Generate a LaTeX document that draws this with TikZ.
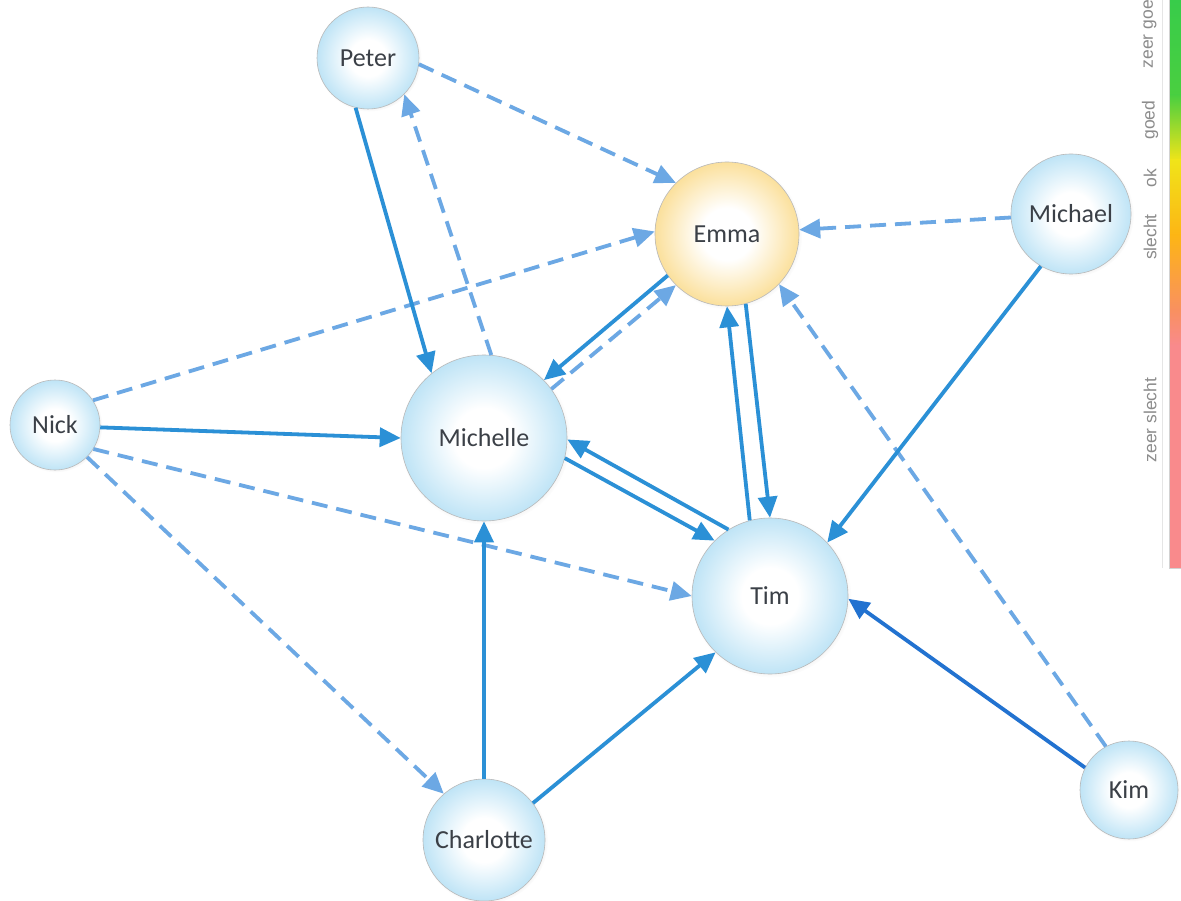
\documentclass[tikz,border=0pt]{standalone}
\usepackage{fontspec}
\setmainfont{Carlito}
\newfontfamily\labfont{Liberation Sans}
\usetikzlibrary{arrows.meta,shadows}
\definecolor{nodeblue}{HTML}{BFE4F6}
\definecolor{nodeyellow}{HTML}{FBE09C}
\definecolor{solidblue}{HTML}{2B90D6}
\definecolor{darkblue}{HTML}{2272D0}
\definecolor{dashblue}{HTML}{6CA8E4}
\definecolor{txt}{HTML}{3B4047}
\definecolor{labgray}{HTML}{8C8C8C}
\definecolor{cgreen}{HTML}{38CC4A}
\definecolor{cgreenb}{HTML}{4ACF40}
\definecolor{cyellow}{HTML}{F0E419}
\definecolor{corange}{HTML}{FDB515}
\definecolor{corangeb}{HTML}{F99060}
\definecolor{cpink}{HTML}{F98A8C}
\pgfdeclareradialshading{bubbleblue}{\pgfpoint{0bp}{0bp}}{color(0bp)=(white); color(9bp)=(white); color(25bp)=(nodeblue); color(50bp)=(nodeblue)}
\pgfdeclareradialshading{bubbleyellow}{\pgfpoint{0bp}{0bp}}{color(0bp)=(white); color(9bp)=(white); color(25bp)=(nodeyellow); color(50bp)=(nodeyellow)}
\begin{document}
\begin{tikzpicture}[x=1pt,y=-1pt,
  person/.style={circle, draw=gray!55, line width=0.6pt, shading=bubbleblue,
    text=txt, font=\fontsize{26}{28}\selectfont, inner sep=0pt,
    circular drop shadow={shadow xshift=1pt,shadow yshift=-1pt,opacity=0.18,shadow scale=1.03}},
  personY/.style={person, shading=bubbleyellow},
  tipstyle/.style={-{Triangle[length=21pt,width=19pt]}},
  solidarr/.style={draw=solidblue, line width=3.8pt, tipstyle},
  darkarr/.style={draw=darkblue, line width=3.8pt, tipstyle},
  dasharr/.style={draw=dashblue, line width=3.8pt, dash pattern=on 16pt off 9pt, tipstyle},
  barlab/.style={rotate=90, text=labgray, font=\labfont\fontsize{17.5}{19}\selectfont, inner sep=0pt}
]
\useasboundingbox[fill=white] (0,0) rectangle (1181,901);

% colour bar
\shade[top color=cgreen, bottom color=cgreenb] (1169,0) rectangle (1181,95.5);
\shade[top color=cgreenb, bottom color=cyellow] (1169,95) rectangle (1181,160.5);
\shade[top color=cyellow, bottom color=corange] (1169,160) rectangle (1181,235.5);
\shade[top color=corange, bottom color=corangeb] (1169,235) rectangle (1181,310.5);
\shade[top color=corangeb, bottom color=cpink] (1169,310) rectangle (1181,345.5);
\fill[cpink] (1169,345) rectangle (1181,568);
\draw[gray!35, line width=0.6pt] (1169,0) -- (1169,568) -- (1181,568);
\draw[gray!20, line width=0.8pt] (1162,0) -- (1162,568);
\node[barlab, anchor=east] (lzg) at (1150,0) {zeer goe};
\node[barlab] (lg) at (1150,120) {goed};
\node[barlab] (lok) at (1150,178) {ok};
\node[barlab] (lsl) at (1150,237) {slecht};
\node[barlab] (lzs) at (1150,420) {zeer slecht};

% nodes
\node[person, minimum size=102pt] (peter) at (368,58) {Peter};
\node[personY, minimum size=144pt] (emma) at (727,234) {Emma};
\node[person, minimum size=120pt] (michael) at (1071,214) {Michael};
\node[person, minimum size=90pt] (nick) at (55,425) {Nick};
\node[person, minimum size=166pt] (michelle) at (484,438) {Michelle};
\node[person, minimum size=156pt] (tim) at (770,596) {Tim};
\node[person, minimum size=122pt] (charlotte) at (484,840) {Charlotte};
\node[person, minimum size=98pt] (kim) at (1129,790) {Kim};

% dashed connectors
\draw[dasharr] (peter.-7) -- (emma.135);
\draw[dasharr] (michelle.85) -- (peter.-45);
\draw[dasharr] (michael) -- (emma);
\draw[dasharr] (nick.33) -- (emma.178);
\draw[dasharr] (michelle.36) -- (emma.225);
\draw[dasharr] (nick.-32) -- (tim.180);
\draw[dasharr] (nick.-45) -- (charlotte.131);
\draw[dasharr] (kim.118) -- (emma.-44);

% solid connectors
\draw[solidarr] (peter.256) -- (michelle.129);
\draw[solidarr] (emma.215) -- (michelle.44);
\draw[solidarr] (emma.-75) -- (tim.90);
\draw[solidarr] (tim.105) -- (emma.-90);
\draw[solidarr] (michelle.-14) -- (tim.135);
\draw[solidarr] (tim.122) -- (michelle.-1);
\draw[solidarr] (nick.-3) -- (michelle.180);
\draw[solidarr] (michael.240) -- (tim.43);
\draw[solidarr] (charlotte) -- (michelle);
\draw[solidarr] (charlotte.37) -- (tim.226);
\draw[darkarr] (kim.153) -- (tim.-2);
\end{tikzpicture}
\end{document}
